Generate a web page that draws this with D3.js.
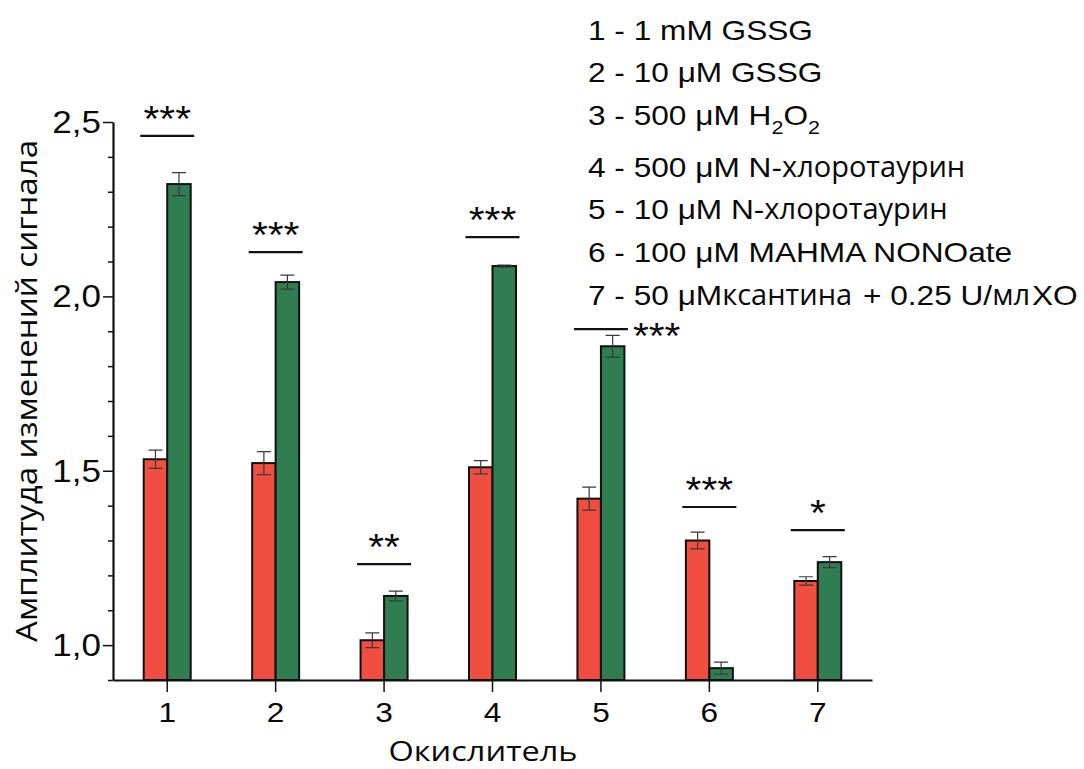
<!DOCTYPE html>
<html>
<head>
<meta charset="utf-8">
<script src="https://cdn.jsdelivr.net/npm/d3@7"></script>
<style>
  body { margin: 0; background: #fff; }
</style>
</head>
<body>
<div id="svganchor"></div>
<script>
let width = 1084, height = 769;

let margin = ({top: 122, right: 212, bottom: 89, left: 113});

// data
let groups = ["1", "2", "3", "4", "5", "6", "7"];
let redValues = [1.533, 1.522, 1.014, 1.510, 1.420, 1.300, 1.184];
let redErrors = [0.026, 0.033, 0.021, 0.019, 0.033, 0.024, 0.012];
let greenValues = [2.322, 2.041, 1.141, 2.087, 1.857, 0.934, 1.238];
let greenErrors = [0.033, 0.020, 0.014, 0.003, 0.031, 0.017, 0.016];
let sigMarks = ["***", "***", "**", "***", "***", "***", "*"];
let sigLevels = [2.46, 2.127, 1.232, 2.17, 1.906, 1.396, 1.33];
let yTickValues = [1.0, 1.5, 2.0, 2.5];
let legendLabels = [
    "1 - 1 mM GSSG",
    "2 - 10 μM GSSG",
    "3 - 500 μM H_2O_2",
    "4 - 500 μM N-хлоротаурин",
    "5 - 10 μM N-хлоротаурин",
    "6 - 100 μM MAHMA NONOate",
    "7 - 50 μMксантина + 0.25 U/млXO"
];

let latin = "'Liberation Sans', Arial, sans-serif";
let cyr = "'Open Sans', 'Noto Sans', sans-serif";
let stretch = 1.13;
let red = "#ef4e40";
let green = "#2f7d50";
let ink = "#0a0a0a";
let barW = 23.5;

let svg = d3.select("#svganchor")
    .append("svg")
    .attr("width", width)
    .attr("height", height);

let xScale = d3.scaleBand()
    .domain(groups)
    .range([margin.left, width - margin.right]);

let yScale = d3.scaleLinear()
    .domain([0.9, 2.5])
    .range([height - margin.bottom, margin.top]);

let center = function(i) { return xScale(groups[i]) + xScale.bandwidth() / 2; };

let rows = groups.map(function(g, i) {
    return {g: g, i: i, red: redValues[i], redErr: redErrors[i],
            green: greenValues[i], greenErr: greenErrors[i],
            mark: sigMarks[i], level: sigLevels[i]};
});

// bars
let barG = svg.append("g");
barG.selectAll(".red")
    .data(rows)
    .enter()
    .append("rect")
    .attr("x", function(d) { return center(d.i) - barW; })
    .attr("y", function(d) { return yScale(d.red); })
    .attr("width", barW)
    .attr("height", function(d) { return yScale(0.9) - yScale(d.red); })
    .attr("fill", red)
    .attr("stroke", "#111")
    .attr("stroke-width", 2);

barG.selectAll(".green")
    .data(rows)
    .enter()
    .append("rect")
    .attr("x", function(d) { return center(d.i); })
    .attr("y", function(d) { return yScale(d.green); })
    .attr("width", barW)
    .attr("height", function(d) { return yScale(0.9) - yScale(d.green); })
    .attr("fill", green)
    .attr("stroke", "#111")
    .attr("stroke-width", 2);

// error bars
function errorBars(key, errKey, dx) {
    let eg = svg.append("g")
        .attr("stroke", "#3a3a3a")
        .attr("stroke-width", 1.2)
        .attr("fill", "none");
    rows.forEach(function(d) {
        let cx = center(d.i) + dx;
        let hi = yScale(d[key] + d[errKey]);
        let lo = yScale(d[key] - d[errKey]);
        eg.append("path")
            .attr("d", `M${cx - 7},${hi}H${cx + 7}M${cx},${hi}V${lo}M${cx - 7},${lo}H${cx + 7}`);
    });
}
errorBars("red", "redErr", -barW / 2);
errorBars("green", "greenErr", barW / 2);

// significance lines and stars
let sigG = svg.append("g");
rows.forEach(function(d) {
    let cx = center(d.i);
    let ly = yScale(d.level);
    sigG.append("line")
        .attr("x1", cx - 27)
        .attr("x2", cx + 27)
        .attr("y1", ly)
        .attr("y2", ly)
        .attr("stroke", "#111")
        .attr("stroke-width", 2.2);
    let side = d.g === "5";
    sigG.append("text")
        .attr("transform", side
            ? `translate(${cx + 32},${ly + 20}) scale(${stretch},1)`
            : `translate(${cx},${ly - 4}) scale(${stretch},1)`)
        .attr("text-anchor", side ? "start" : "middle")
        .attr("font-family", latin)
        .attr("font-size", 36)
        .attr("fill", ink)
        .text(d.mark);
});

// y axis
let yAxis = d3.axisLeft(yScale)
    .tickValues(d3.range(9, 26).map(function(v) { return v / 10; }))
    .tickSizeOuter(0)
    .tickFormat("");

let gY = svg.append("g")
    .attr("class", "y axis")
    .attr("transform", `translate(${margin.left},0)`)
    .call(yAxis);
gY.select(".domain").attr("stroke", "#111").attr("stroke-width", 2.2);
gY.selectAll(".tick line")
    .attr("stroke", "#111")
    .attr("stroke-width", 1.5)
    .attr("x2", function(d) {
        return yTickValues.some(function(t) { return Math.abs(t - d) < 1e-6; }) ? -10 : -5;
    });

let yLabels = svg.append("g");
yTickValues.forEach(function(t) {
    yLabels.append("text")
        .attr("transform", `translate(${margin.left - 12},${yScale(t) + 11}) scale(${stretch},1)`)
        .attr("text-anchor", "end")
        .attr("font-family", latin)
        .attr("font-size", 31)
        .attr("fill", ink)
        .text(d3.format(".1f")(t).replace(".", ","));
});

// x axis
let xAxis = d3.axisBottom(xScale)
    .tickSizeOuter(0)
    .tickSizeInner(12)
    .tickFormat("");

let gX = svg.append("g")
    .attr("class", "x axis")
    .attr("transform", `translate(0,${height - margin.bottom})`)
    .call(xAxis);
gX.select(".domain").attr("stroke", "#111").attr("stroke-width", 2.2);
gX.selectAll(".tick line").attr("stroke", "#111").attr("stroke-width", 1.5);

groups.forEach(function(g, i) {
    svg.append("text")
        .attr("transform", `translate(${center(i)},${height - margin.bottom + 42}) scale(${stretch},1)`)
        .attr("text-anchor", "middle")
        .attr("font-family", latin)
        .attr("font-size", 28)
        .attr("fill", ink)
        .text(g);
});

// axis titles
svg.append("text")
    .attr("text-anchor", "middle")
    .attr("x", 483)
    .attr("y", 761)
    .attr("font-family", cyr)
    .attr("font-size", 28)
    .attr("fill", ink)
    .attr("textLength", 189)
    .attr("lengthAdjust", "spacingAndGlyphs")
    .text("Окислитель");

svg.append("text")
    .attr("text-anchor", "middle")
    .attr("transform", "translate(37,391) rotate(-90)")
    .attr("font-family", cyr)
    .attr("font-size", 30)
    .attr("fill", ink)
    .attr("textLength", 502)
    .attr("lengthAdjust", "spacingAndGlyphs")
    .text("Амплитуда изменений сигнала");

// legend: each run is its own text, laid out one after another
let legendBase = [40, 82, 125, 177, 219, 262, 305];
legendLabels.forEach(function(label, i) {
    let x = 588;
    let parts = label.match(/_\d|[\u0400-\u04FF]+|[^_\u0400-\u04FF]+/g);
    parts.forEach(function(p) {
        let sub = p[0] === "_";
        let isCyr = /[\u0400-\u04FF]/.test(p);
        let txt = sub ? p.slice(1) : p;
        let sx = isCyr ? 1 : stretch;
        let t = svg.append("text")
            .attr("transform", `translate(${x},${legendBase[i] + (sub ? 9 : 0)}) scale(${sx},1)`)
            .attr("font-family", isCyr ? cyr : latin)
            .attr("font-size", sub ? 19 : (isCyr ? 29 : 28))
            .attr("fill", ink)
            .attr("xml:space", "preserve")
            .style("white-space", "pre")
            .text(txt);
        x += t.node().getComputedTextLength() * sx + (isCyr ? 2 : 0);
    });
});
</script>
</body>
</html>
